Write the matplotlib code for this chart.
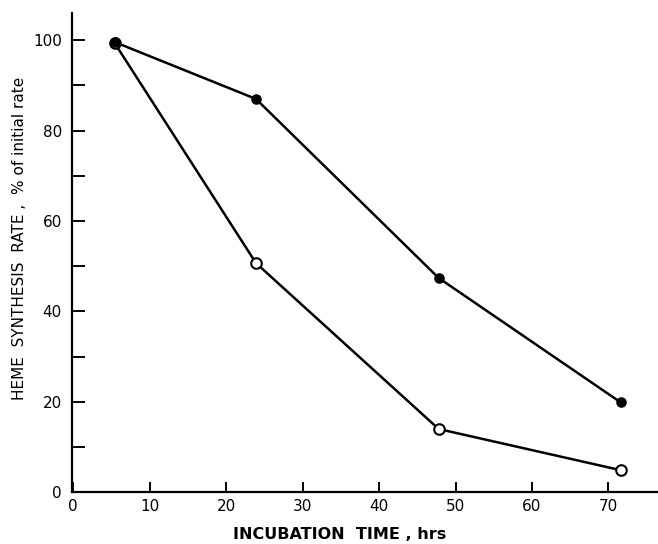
import matplotlib
matplotlib.use("Agg")
from matplotlib import pyplot as plt
from matplotlib.ticker import MultipleLocator

# incubation time (hrs) and heme synthesis rate (% of initial rate)
hours = [5.4, 23.9, 47.8, 71.6]
rate_filled = [99.6, 87.0, 47.4, 19.9]
rate_open = [99.4, 50.7, 14.0, 4.9]

x_ticks = [0, 10, 20, 30, 40, 50, 60, 70]
y_ticks = [0, 20, 40, 60, 80, 100]

fig = plt.figure(figsize=(6.58, 5.44), dpi=100)
ax = fig.add_axes([0.109, 0.095, 0.89, 0.881])

ax.plot(hours, rate_open, color="black", lw=1.8, marker="o", ms=7.6,
        mfc="white", mec="black", mew=1.5, zorder=3)
ax.plot(hours, rate_filled, color="black", lw=1.8, marker="o", ms=6.6,
        mfc="black", mec="black", zorder=4)

ax.set_xlim(-0.2, 76.4)
ax.set_ylim(0, 106)
ax.set_xticks(x_ticks)
ax.set_yticks(y_ticks)
ax.yaxis.set_minor_locator(MultipleLocator(10))

for side in ("top", "right"):
    ax.spines[side].set_visible(False)
for side in ("left", "bottom"):
    ax.spines[side].set_linewidth(1.6)

ax.tick_params(axis="both", which="both", direction="in", width=1.4,
               labelsize=11)
ax.tick_params(axis="y", which="major", length=9, pad=7)
ax.tick_params(axis="y", which="minor", length=9)
ax.tick_params(axis="x", which="major", length=7, pad=5)

ax.set_xlabel("INCUBATION  TIME , hrs", fontsize=11.5, fontweight="bold")
ax.xaxis.set_label_coords(0.458, -0.072)
ax.set_ylabel("HEME  SYNTHESIS  RATE ,  % of initial rate", fontsize=11)
ax.yaxis.set_label_coords(-0.076, 0.53)

fig.savefig("out.png", dpi=100, facecolor="w")
